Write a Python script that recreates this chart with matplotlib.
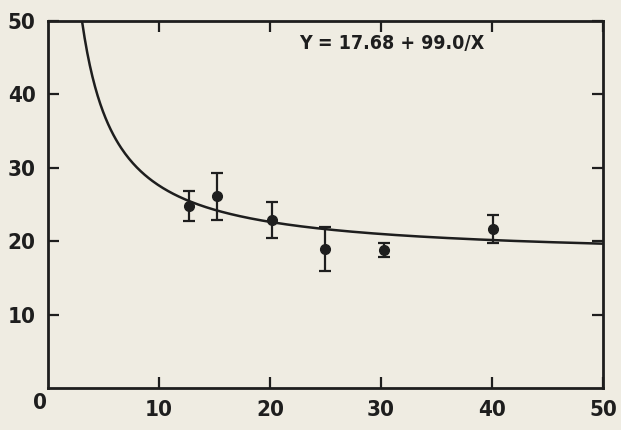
import matplotlib
matplotlib.use("Agg")
import matplotlib.pyplot as plt
from matplotlib import font_manager
import numpy as np

# data
x_obs = [12.7, 15.2, 20.2, 25.0, 30.3, 40.1]
y_obs = [24.8, 26.1, 22.9, 19.0, 18.8, 21.7]
y_err = [2.0, 3.2, 2.4, 3.0, 1.0, 1.9]
a_coef = 17.68
b_coef = 99.0
x_ticks = [10, 20, 30, 40, 50]
y_ticks = [10, 20, 30, 40, 50]

# look for a narrow face among the installed fonts
narrow = None
for f in font_manager.fontManager.ttflist:
    n = f.name.lower()
    if "narrow" in n or "condensed" in n or str(f.stretch) in ("condensed", "semi-condensed", "extra-condensed"):
        narrow = f.name
        if "liberation" in n or "dejavu" in n:
            break
condensed = narrow is not None
family = narrow if condensed else "DejaVu Sans"
plt.rcParams["font.family"] = [family, "DejaVu Sans"]
stretch = "condensed" if condensed else "normal"
tick_size = 16 if condensed else 13
eq_size = 14 if condensed else 11

bg = "#efece2"
ink = "#1e1e1e"

fig = plt.figure(figsize=(6.21, 4.30), dpi=100, facecolor=bg)
ax = fig.add_axes([0.0773, 0.0977, 0.8937, 0.8535], facecolor=bg)

# fitted curve
xc = np.linspace(b_coef / (50 - a_coef), 50, 400)
ax.plot(xc, a_coef + b_coef / xc, color=ink, lw=1.8)

# measured points
ax.errorbar(x_obs, y_obs, yerr=y_err, fmt="o", color=ink, ms=7,
            elinewidth=1.6, capsize=4, capthick=1.6)

ax.set_xlim(0, 50)
ax.set_ylim(0, 50)
ax.set_xticks(x_ticks)
ax.set_yticks(y_ticks)
ax.tick_params(direction="in", length=8, width=1.6, top=True, right=True,
               labelsize=tick_size, colors=ink, pad=9)
for lab in ax.get_xticklabels() + ax.get_yticklabels():
    lab.set_fontweight("bold")
    lab.set_fontstretch(stretch)
for s in ax.spines.values():
    s.set_linewidth(2)
    s.set_color(ink)

# the shared origin label sits in the corner
ax.text(-0.75, -2.0, "0", ha="center", va="center", fontsize=tick_size,
        fontweight="bold", fontstretch=stretch, color=ink, clip_on=False)
ax.text(31.0, 46.9, f"Y = {a_coef:.2f} + {b_coef:.1f}/X", ha="center",
        va="center", fontsize=eq_size, fontweight="bold", fontstretch=stretch,
        color=ink)

fig.savefig("out.png", dpi=100, facecolor=bg)
